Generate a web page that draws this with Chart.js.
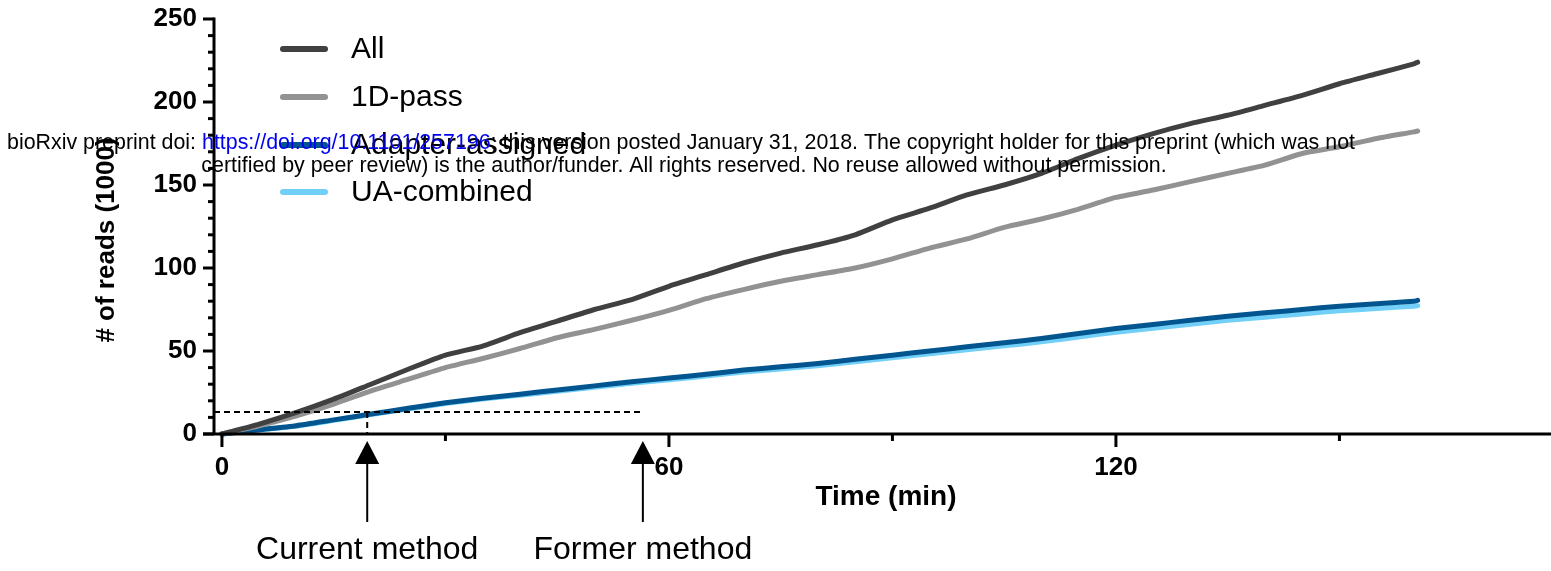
<!DOCTYPE html>
<html>
<head>
<meta charset="utf-8">
<script src="https://cdn.jsdelivr.net/npm/chart.js@4.4.1/dist/chart.umd.min.js"></script>
<style>
    html, body { margin: 0; padding: 0; background: #fff; }
    #wrap { width: 1551px; height: 571px; }
</style>
</head>
<body>
<div id="wrap"><canvas id="chart" width="1551" height="571"></canvas></div>
<script>
// Time points (min) and cumulative read counts (x1000)
const timeMin = [0, 5, 10, 15, 20, 25, 30, 35, 40, 45, 50, 55, 60, 65, 70, 75, 80, 85, 90, 95,
    100, 105, 110, 115, 120, 125, 130, 135, 140, 145, 150, 155, 160, 160.5];
const allReads = [0, 6, 13, 21, 30, 39, 47.5, 53, 61, 68, 75, 81, 89, 96, 103, 109, 114, 120, 129, 136,
    144, 150, 157, 166, 174, 181, 187, 192, 198, 204, 211, 217, 223, 224];
const passReads = [0, 5, 11, 18, 26, 33, 40, 45.5, 51.5, 58, 63, 68.5, 74.5, 81.5, 87, 92, 96, 100, 105.5, 112,
    117.5, 124.5, 129.5, 135.5, 142.5, 147, 152, 157, 162, 169, 173, 178, 182, 182.5];
const adapterReads = [0, 2.5, 5, 8.5, 12, 15.5, 18.8, 21.5, 24, 26.5, 29, 31.5, 33.7, 36, 38.5, 40.5, 42.5, 45, 47.5, 50,
    52.5, 55, 57.5, 60.5, 63.5, 66, 68.5, 71, 73, 75, 77, 78.5, 80, 80.5];
const uaReads = [0, 2.4, 4.8, 8.2, 11.7, 15.1, 18.3, 21, 23.4, 25.8, 28.2, 30.6, 32.7, 34.9, 37.3, 39.2, 41.1, 43.5, 45.9, 48.3,
    50.7, 53.1, 55.5, 58.4, 61.3, 63.7, 66.1, 68.5, 70.4, 72.3, 74.2, 75.6, 77, 77.3];

const seriesNames = ["All", "1D-pass", "Adapter-assigned", "UA-combined"];
const seriesColors = ["#404040", "#929292", "#02558f", "#72d0f8"];

const yTickLabels = [0, 50, 100, 150, 200, 250];
const xTickLabels = [0, 60, 120];
const xMinorTicks = [30, 90, 150];

// Annotation values
const currentMethodTime = 19.5;
const formerMethodTime = 56.5;
const thresholdReads = 13.3;

const FONT = "'Liberation Sans', Arial, Helvetica, sans-serif";

function toPoints(values) {
    return values.map((v, i) => ({ x: timeMin[i], y: v }));
}

// Axes, annotations, legend and the preprint header are drawn here
const figurePlugin = {
    id: "figure",
    afterDatasetsDraw(chart) {
        const ctx = chart.ctx;
        const xs = chart.scales.x;
        const ys = chart.scales.y;
        const axisX = 214;
        const axisY = ys.getPixelForValue(0);

        ctx.save();
        ctx.strokeStyle = "#000";
        ctx.fillStyle = "#000";

        // dashed guides
        ctx.lineWidth = 2;
        ctx.setLineDash([6, 4]);
        const ty = ys.getPixelForValue(thresholdReads);
        ctx.beginPath();
        ctx.moveTo(axisX, ty);
        ctx.lineTo(xs.getPixelForValue(formerMethodTime), ty);
        ctx.moveTo(xs.getPixelForValue(currentMethodTime), ty);
        ctx.lineTo(xs.getPixelForValue(currentMethodTime), axisY);
        ctx.stroke();
        ctx.setLineDash([]);

        // y axis
        ctx.lineWidth = 3;
        ctx.beginPath();
        ctx.moveTo(axisX, ys.getPixelForValue(250) - 1.5);
        ctx.lineTo(axisX, axisY);
        ctx.stroke();
        for (let v = 0; v <= 250; v += 10) {
            const y = ys.getPixelForValue(v);
            const len = v % 50 === 0 ? 11 : 6;
            ctx.beginPath();
            ctx.moveTo(axisX - len, y);
            ctx.lineTo(axisX, y);
            ctx.stroke();
        }
        ctx.font = "bold 26px " + FONT;
        ctx.textAlign = "right";
        ctx.textBaseline = "middle";
        yTickLabels.forEach(v => ctx.fillText(String(v), 197, ys.getPixelForValue(v)));

        // x axis
        ctx.beginPath();
        ctx.moveTo(axisX - 11, axisY);
        ctx.lineTo(chart.width, axisY);
        ctx.stroke();
        xTickLabels.forEach(v => {
            const x = xs.getPixelForValue(v);
            ctx.beginPath();
            ctx.moveTo(x, axisY);
            ctx.lineTo(x, axisY + 13);
            ctx.stroke();
        });
        xMinorTicks.forEach(v => {
            const x = xs.getPixelForValue(v);
            ctx.beginPath();
            ctx.moveTo(x, axisY);
            ctx.lineTo(x, axisY + 7);
            ctx.stroke();
        });
        ctx.textAlign = "center";
        xTickLabels.forEach(v => ctx.fillText(String(v), xs.getPixelForValue(v), 468));

        // axis titles
        ctx.save();
        ctx.translate(107, 240);
        ctx.rotate(-Math.PI / 2);
        ctx.fillText("# of reads (1000)", 0, 0);
        ctx.restore();
        ctx.font = "bold 28px " + FONT;
        ctx.fillText("Time (min)", 886, 497);

        // arrows + method labels
        ctx.font = "32px " + FONT;
        [[currentMethodTime, "Current method"], [formerMethodTime, "Former method"]].forEach(([t, label]) => {
            const x = xs.getPixelForValue(t);
            ctx.beginPath();
            ctx.moveTo(x, 441);
            ctx.lineTo(x - 12, 464);
            ctx.lineTo(x + 12, 464);
            ctx.closePath();
            ctx.fill();
            ctx.lineWidth = 2;
            ctx.beginPath();
            ctx.moveTo(x, 462);
            ctx.lineTo(x, 522);
            ctx.stroke();
            ctx.fillText(label, x, 550);
        });

        // legend
        const legendY = [49, 97, 145, 192];
        ctx.textAlign = "left";
        ctx.font = "30px " + FONT;
        seriesNames.forEach((name, i) => {
            ctx.strokeStyle = seriesColors[i];
            ctx.lineWidth = 6;
            ctx.lineCap = "round";
            ctx.beginPath();
            ctx.moveTo(283, legendY[i]);
            ctx.lineTo(325, legendY[i]);
            ctx.stroke();
            ctx.fillStyle = "#000";
            ctx.fillText(name, 351, legendY[i] + 1);
        });
        ctx.restore();
    },
    afterDraw(chart) {
        // bioRxiv header stamped over the figure
        const ctx = chart.ctx;
        ctx.save();
        ctx.font = "21.4px " + FONT;
        ctx.textBaseline = "middle";
        ctx.textAlign = "left";
        const parts = [
            ["bioRxiv preprint doi: ", "#000"],
            ["https://doi.org/10.1101/257196", "#0000ee"],
            ["; this version posted January 31, 2018. The copyright holder for this preprint (which was not", "#000"]
        ];
        const total = parts.reduce((s, p) => s + ctx.measureText(p[0]).width, 0);
        let x = 681 - total / 2;
        parts.forEach(([txt, col]) => {
            ctx.fillStyle = col;
            ctx.fillText(txt, x, 143);
            x += ctx.measureText(txt).width;
        });
        ctx.fillStyle = "#000";
        ctx.textAlign = "center";
        ctx.fillText("certified by peer review) is the author/funder. All rights reserved. No reuse allowed without permission.", 684, 166);
        ctx.restore();
    }
};

const seriesData = [allReads, passReads, adapterReads, uaReads];

new Chart(document.getElementById("chart").getContext("2d"), {
    type: "line",
    data: {
        datasets: seriesNames.map((name, i) => ({
            label: name,
            data: toPoints(seriesData[i]),
            borderColor: seriesColors[i],
            borderWidth: 5,
            borderCapStyle: "round",
            borderJoinStyle: "round",
            pointRadius: 0,
            tension: 0.2,
            fill: false,
            clip: false
        }))
    },
    options: {
        responsive: false,
        animation: false,
        devicePixelRatio: 1,
        layout: { padding: { left: 213, top: 19, right: 0, bottom: 137 } },
        plugins: { legend: { display: false }, tooltip: { enabled: false } },
        scales: {
            x: { type: "linear", min: -1.2, max: 178.4, display: false },
            y: { type: "linear", min: 0, max: 250, display: false }
        }
    },
    plugins: [figurePlugin]
});
</script>
</body>
</html>
